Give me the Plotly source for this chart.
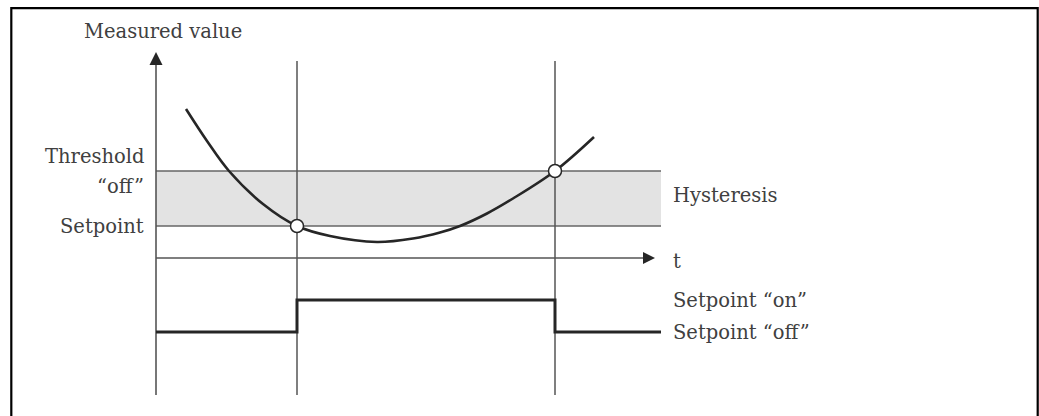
import plotly.graph_objects as go

# ---- data (schematic units: t = time, v = measured value) ----
t_curve = [3.0, 5.1, 7.3, 10.7, 14.1, 17.4, 22.1, 25.7, 28.4, 30.4, 33.1, 35.7, 39.9, 43.8]
v_curve = [14.9, 11.7, 8.7, 5.4, 3.2, 2.2, 1.6, 1.95, 2.55, 3.2, 4.45, 5.95, 8.7, 12.1]
setpoint = 3.2
threshold_off = 8.7
t_on = 14.1          # curve crosses setpoint -> output switches on
t_off = 39.9         # curve crosses threshold "off" -> output switches off
t_end = 50.5         # end of band / output trace
t_axis_tip = 49.9
v_axis_tip = 20.6
v_bottom = -13.7
v_vline_top = 19.7
state_t = [0, t_on, t_off, t_end]
state_v = [-7.4, -4.2, -7.4, -7.4]
state_on = -4.2
state_off = -7.4

FONT = "DejaVu Serif"
TXT = "#404040"
LINE = "#555555"
DARK = "#262626"

fig = go.Figure()

# hysteresis band
fig.add_shape(type="rect", x0=0, x1=t_end, y0=setpoint, y1=threshold_off,
              fillcolor="#e3e3e3", line_width=0, layer="below")
for yv in (setpoint, threshold_off):
    fig.add_trace(go.Scatter(x=[0, t_end], y=[yv, yv], mode="lines",
                             line=dict(color="#666666", width=1.6), hoverinfo="skip"))

# time axis
fig.add_trace(go.Scatter(x=[0, t_axis_tip - 1.0], y=[0, 0], mode="lines",
                         line=dict(color=LINE, width=1.6), hoverinfo="skip"))
fig.add_trace(go.Scatter(x=[t_axis_tip], y=[0], mode="markers",
                         marker=dict(symbol="arrow-right", size=12, color=DARK,
                                     line=dict(width=0)), hoverinfo="skip"))

# value axis
fig.add_trace(go.Scatter(x=[0, 0], y=[v_bottom, v_axis_tip - 1.0], mode="lines",
                         line=dict(color=LINE, width=1.6), hoverinfo="skip"))
fig.add_trace(go.Scatter(x=[0], y=[v_axis_tip], mode="markers",
                         marker=dict(symbol="arrow-up", size=13, color=DARK,
                                     line=dict(width=0)), hoverinfo="skip"))

# switching-instant lines
for tv in (t_on, t_off):
    fig.add_trace(go.Scatter(x=[tv, tv], y=[v_bottom, v_vline_top], mode="lines",
                             line=dict(color=LINE, width=1.5), hoverinfo="skip"))

# output state
fig.add_trace(go.Scatter(x=state_t, y=state_v, mode="lines", line_shape="hv",
                         line=dict(color=DARK, width=3), hoverinfo="skip"))

# measured value curve
fig.add_trace(go.Scatter(x=t_curve, y=v_curve, mode="lines", line_shape="spline",
                         line=dict(color=DARK, width=2.6, smoothing=1.0), hoverinfo="skip"))

# switching points
fig.add_trace(go.Scatter(x=[t_on, t_off], y=[setpoint, threshold_off], mode="markers",
                         marker=dict(size=13, color="white",
                                     line=dict(color=DARK, width=1.5)), hoverinfo="skip"))

# outer frame (top, left, right)
fig.add_shape(type="path", xref="paper", yref="paper",
              path="M 0.01088,-0.1 L 0.01088,0.9803 L 0.99875,0.9803 L 0.99875,-0.1",
              line=dict(color="black", width=2.2))

ann = dict(showarrow=False, font=dict(family=FONT, size=19.5, color=TXT))
fig.add_annotation(x=0, y=v_axis_tip + 1.0, text="Measured value", xanchor="center",
                   yanchor="bottom", xshift=7, yshift=-3, **ann)
fig.add_annotation(x=0, y=threshold_off + 1.5, text="Threshold", xanchor="right",
                   yanchor="middle", xshift=-10, **ann)
fig.add_annotation(x=0, y=threshold_off - 1.5, text="\u201coff\u201d", xanchor="right",
                   yanchor="middle", xshift=-10, **ann)
fig.add_annotation(x=0, y=setpoint, text="Setpoint", xanchor="right",
                   yanchor="middle", xshift=-10, **ann)
fig.add_annotation(x=t_end, y=(setpoint + threshold_off) / 2, text="Hysteresis",
                   xanchor="left", yanchor="middle", xshift=10, yshift=3, **ann)
fig.add_annotation(x=t_end, y=0, text="t", xanchor="left", yanchor="middle",
                   xshift=10, yshift=-3, **ann)
fig.add_annotation(x=t_end, y=state_on, text="Setpoint \u201con\u201d", xanchor="left",
                   yanchor="middle", xshift=10, **ann)
fig.add_annotation(x=t_end, y=state_off, text="Setpoint \u201coff\u201d", xanchor="left",
                   yanchor="middle", xshift=10, **ann)

fig.update_layout(
    width=1039, height=416, margin=dict(l=0, r=0, t=0, b=0),
    paper_bgcolor="white", plot_bgcolor="white", showlegend=False,
    xaxis=dict(range=[-15.6, 88.3], visible=False, fixedrange=True),
    yaxis=dict(range=[-15.8, 25.8], visible=False, fixedrange=True),
)

fig.write_html("out.html", config={"displayModeBar": False},
               post_script="document.body.style.margin='0px';document.body.style.overflow='hidden';")
